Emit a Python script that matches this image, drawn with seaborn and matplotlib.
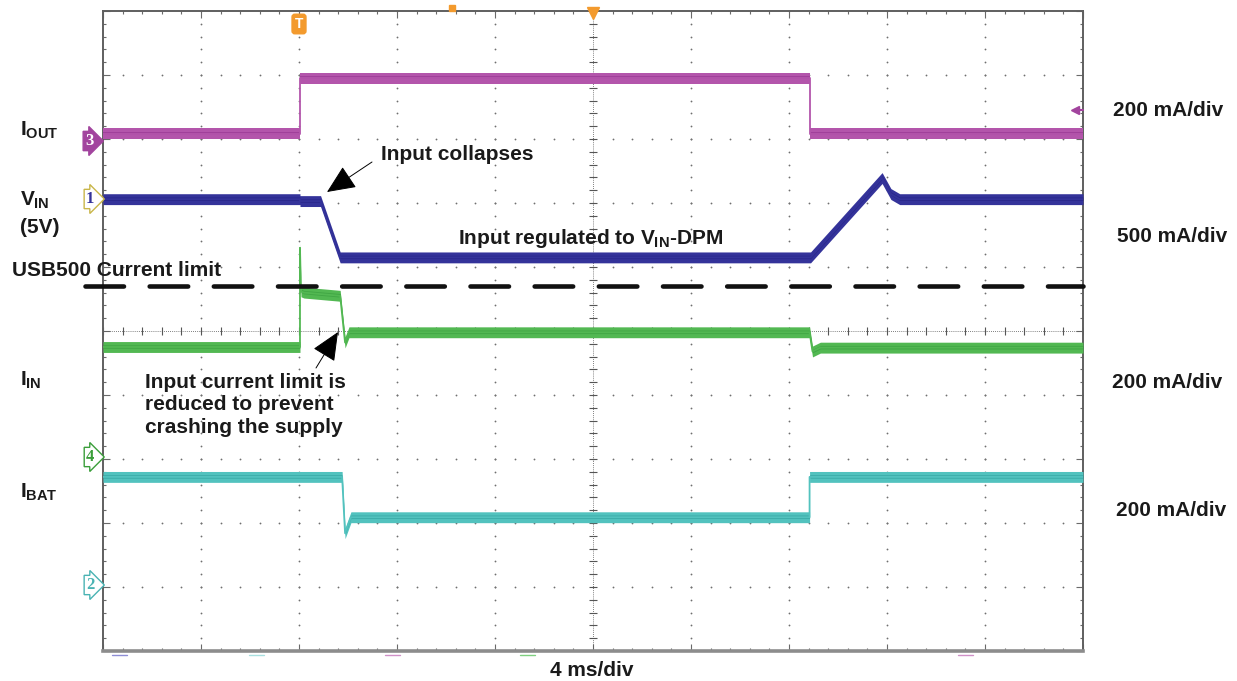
import matplotlib
matplotlib.use('Agg')
import matplotlib.pyplot as plt
from matplotlib.lines import Line2D
import numpy as np
import pandas as pd
import seaborn as sns

# scope traces, in screen divisions (x: 0..10 at 4 ms/div, y: 0..10)
iout_x = [0, 2.01, 2.01, 7.21, 7.21, 10]
iout_y = [8.08, 8.08, 8.95, 8.95, 8.08, 8.08]

vin_x = [0, 2.01, 2.01, 2.22, 2.42, 7.22, 7.95, 8.04, 8.13, 10]
vin_y = [7.06, 7.06, 7.03, 7.03, 6.15, 6.15, 7.39, 7.14, 7.06, 7.06]

iin_x = [0, 2.01, 2.01, 2.02, 2.05, 2.42, 2.47, 2.51, 7.21, 7.24, 7.32, 10]
iin_y = [4.75, 4.75, 6.30, 5.62, 5.60, 5.55, 4.82, 4.98, 4.98, 4.68, 4.74, 4.74]

ibat_x = [0, 2.44, 2.47, 2.53, 7.21, 7.21, 10]
ibat_y = [2.72, 2.72, 1.84, 2.09, 2.09, 2.72, 2.72]

limit_x = [-0.18, 10]
limit_y = [5.70, 5.70]

traces = {
    'IOUT': (iout_x, iout_y, '#b355ab', '#8a2786'),
    'VIN': (vin_x, vin_y, '#34339a', '#1d1a7c'),
    'IIN': (iin_x, iin_y, '#52b852', '#2c9135'),
    'IBAT': (ibat_x, ibat_y, '#52c2be', '#1f918e'),
}

W, H = 1237, 681

sns.set_style('white')
plt.rcParams['font.family'] = ['Liberation Sans', 'DejaVu Sans']
plt.rcParams['font.weight'] = 'bold'
plt.rcParams['mathtext.fontset'] = 'custom'
plt.rcParams['mathtext.rm'] = 'Liberation Sans:bold'
plt.rcParams['mathtext.it'] = 'Liberation Sans:bold'
plt.rcParams['mathtext.bf'] = 'Liberation Sans:bold'
plt.rcParams['mathtext.default'] = 'it'


def px(x, y):
    return x / W, 1 - y / H


fig = plt.figure(figsize=(W / 100, H / 100), dpi=100)
ax = fig.add_axes([103 / W, 30 / H, 980 / W, 640 / H])
ax.set_xlim(0, 10)
ax.set_ylim(0, 10)

# dotted graticule
minor = np.arange(0, 10.001, 0.2)
for i in [1, 2, 3, 4, 6, 7, 8, 9]:
    ax.plot(np.full_like(minor, i), minor, ls='none', marker='o', ms=1.3,
            mew=0, color='#6f6f6f', zorder=1)
    ax.plot(minor, np.full_like(minor, i), ls='none', marker='o', ms=1.3,
            mew=0, color='#6f6f6f', zorder=1)
ax.axvline(5, color='#555555', lw=0.6, ls=(0, (1, 1.5)), zorder=1)
ax.axhline(5, color='#555555', lw=0.6, ls=(0, (1, 1.5)), zorder=1)
ax.plot(np.full_like(minor, 5), minor, ls='none', marker='_', ms=6, mew=0.8,
        color='#555555', zorder=1)
ax.plot(minor, np.full_like(minor, 5), ls='none', marker='|', ms=6, mew=0.8,
        color='#555555', zorder=1)

# traces: noise band + thin trace line
for name, (tx, ty, col, dark) in traces.items():
    tx = np.array(tx)
    ty = np.array(ty)
    ax.fill_between(tx, ty - 0.085, ty + 0.085, color=col, lw=0, zorder=3)
    ax.fill_between(tx, ty - 0.02, ty + 0.035, color=dark, lw=0, alpha=0.45, zorder=3)
    sns.lineplot(x=tx, y=ty, ax=ax, sort=False, estimator=None, color=col,
                 linewidth=1.3, zorder=4)

# USB500 current limit
sns.lineplot(x=limit_x, y=limit_y, ax=ax, sort=False, estimator=None,
             color='#111111', linewidth=3.3, zorder=5, clip_on=False)
ax.lines[-1].set_dashes([8.4, 5.6])
ax.lines[-1].set_dash_capstyle('round')

# frame
for side, sp in ax.spines.items():
    sp.set_visible(True)
    sp.set_color('#5f5f5f')
    sp.set_linewidth(1.4)
ax.spines['bottom'].set_color('#8c8c8c')
ax.spines['bottom'].set_linewidth(2.6)
ax.set_xticks(np.arange(0, 11, 1))
ax.set_yticks(np.arange(0, 11, 1))
ax.set_xticks(minor, minor=True)
ax.set_yticks(minor, minor=True)
ax.tick_params(which='both', direction='in', top=True, right=True, bottom=True, left=True,
               labelbottom=False, labelleft=False, color='#6a6a6a', width=0.8)
ax.tick_params(which='major', length=5)
ax.tick_params(which='minor', length=2.5)
ax.set_xlabel('')
ax.set_ylabel('')

# channel tags on the left
tag_kw = dict(fontsize=12, family='Liberation Serif', ha='center', va='center')
fig.text(*px(89, 141), '3', color='white',
         bbox=dict(boxstyle='rarrow,pad=0.1', fc='#a2449e', ec='#a2449e'), **tag_kw)
fig.text(*px(90, 199), '1', color='#34339a',
         bbox=dict(boxstyle='rarrow,pad=0.1', fc='white', ec='#c9b64a', lw=1), **tag_kw)
fig.text(*px(90, 457), '4', color='#3a9e3a',
         bbox=dict(boxstyle='rarrow,pad=0.1', fc='white', ec='#3a9e3a', lw=1), **tag_kw)
fig.text(*px(90, 585), '2', color='#49b3b3',
         bbox=dict(boxstyle='rarrow,pad=0.1', fc='white', ec='#49b3b3', lw=1), **tag_kw)

# trigger markers
fig.text(*px(299, 24), 'T', color='white', fontsize=10, ha='center', va='center',
         bbox=dict(boxstyle='round,pad=0.2', fc='#f39a2d', ec='#f39a2d'))
fig.add_artist(Line2D([593 / W], [1 - 13 / H], marker='v', ms=8, color='#f39a2d'))
fig.add_artist(Line2D([452 / W], [1 - 8 / H], marker='s', ms=4, color='#f39a2d'))
fig.add_artist(Line2D([1075 / W], [1 - 110 / H], marker='<', ms=6, color='#a2449e'))
fig.add_artist(Line2D([1075 / W, 1083 / W], [1 - 110 / H] * 2, lw=1.5, color='#a2449e'))

# small channel bars under the screen
for x0, c in [(112, '#8e8ed6'), (249, '#a8e0e0'), (385, '#d090c8'),
              (520, '#7fd080'), (958, '#d090c8')]:
    fig.add_artist(Line2D([x0 / W, (x0 + 15) / W], [1 - 655 / H] * 2, lw=1, color=c))

# labels
lab = dict(fontsize=15, fontweight='bold', color='#1a1a1a', va='center', ha='left')
fig.text(*px(20, 130), r'$I_{OUT}$', **lab)
fig.text(*px(20, 200), r'$V_{IN}$', **lab)
fig.text(*px(20, 228), '(5V)', **lab)
fig.text(*px(12, 271), 'USB500 Current limit', **lab)
fig.text(*px(20, 380), r'$I_{IN}$', **lab)
fig.text(*px(20, 492), r'$I_{BAT}$', **lab)

fig.text(*px(381, 155), 'Input collapses', **lab)
fig.text(*px(458, 238), r'Input regulated to $V_{IN}$-DPM', **lab)
fig.text(*px(145, 405), 'Input current limit is\nreduced to prevent\ncrashing the supply',
         linespacing=1.25, **lab)

fig.text(*px(1113, 110), '200 mA/div', **lab)
fig.text(*px(1117, 236), '500 mA/div', **lab)
fig.text(*px(1112, 382), '200 mA/div', **lab)
fig.text(*px(1116, 510), '200 mA/div', **lab)
fig.text(*px(550, 670), '4 ms/div', **lab)

arrow = dict(arrowstyle='-|>,head_length=0.9,head_width=0.4', color='black',
             lw=0.7, mutation_scale=20, shrinkA=0, shrinkB=0)
ax.annotate('', xy=px(327, 192), xycoords='figure fraction',
            xytext=px(372, 162), textcoords='figure fraction', arrowprops=arrow)
ax.annotate('', xy=px(338, 332), xycoords='figure fraction',
            xytext=px(316, 368), textcoords='figure fraction', arrowprops=arrow)

plt.savefig('out.png', dpi=100)
